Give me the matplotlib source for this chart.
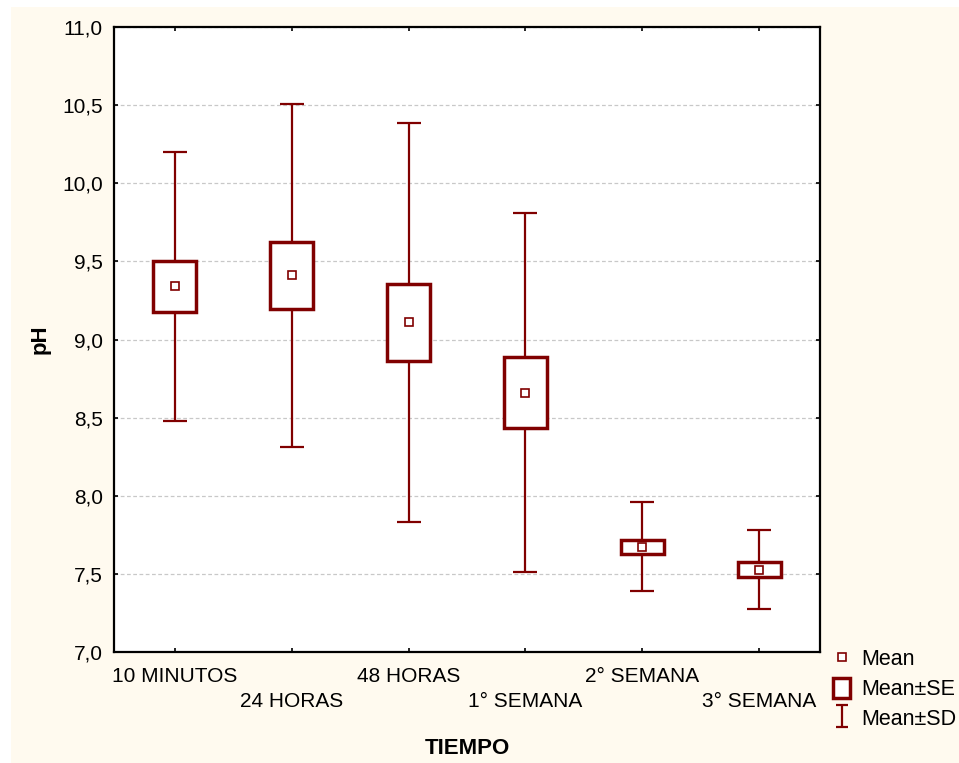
import matplotlib
matplotlib.use("Agg")
import matplotlib.pyplot as plt
import matplotlib.patches as mpatches
from matplotlib.lines import Line2D
from matplotlib.path import Path
from matplotlib.ticker import FuncFormatter

# values (pH per time point)
tiempo = ["10 MINUTOS", "24 HORAS", "48 HORAS", "1° SEMANA", "2° SEMANA", "3° SEMANA"]
mean_ph = [9.34, 9.41, 9.11, 8.66, 7.675, 7.528]
se_ph = [0.165, 0.215, 0.245, 0.225, 0.045, 0.045]
sd_ph = [0.86, 1.10, 1.275, 1.15, 0.285, 0.253]
y_ticks = [7.0, 7.5, 8.0, 8.5, 9.0, 9.5, 10.0, 10.5, 11.0]

red = "#800000"
cream = "#FFFAEF"
plt.rcParams["font.family"] = ["Liberation Sans", "DejaVu Sans"]

fig = plt.figure(figsize=(9.59, 7.63), dpi=100)
fig.patch.set_facecolor("white")
# cream panel (small white margin top / left)
fig.patches.append(mpatches.Rectangle((11 / 959, 0), 1, (763 - 7) / 763,
                                      transform=fig.transFigure, facecolor=cream,
                                      edgecolor="none", zorder=-10))

ax = fig.add_axes([114 / 959, 111 / 763, (820 - 114) / 959, (652 - 27) / 763])
ax.set_facecolor("white")

x = list(range(len(tiempo)))

# mean +- sd whiskers
ax.errorbar(x, mean_ph, yerr=sd_ph, fmt="none", ecolor=red, elinewidth=1.6,
            capsize=8.3, capthick=1.6, zorder=2)
# mean +- se boxes
lower = [m - s for m, s in zip(mean_ph, se_ph)]
ax.bar(x, [2 * s for s in se_ph], bottom=lower, width=0.37, color="white",
       edgecolor=red, linewidth=2.5, zorder=3)
# means
ax.plot(x, mean_ph, ls="none", marker="s", ms=6, mfc="white", mec=red, mew=1.2, zorder=4)

ax.set_xlim(-0.52, 5.52)
ax.set_ylim(7.0, 11.0)
ax.set_yticks(y_ticks)
ax.yaxis.set_major_formatter(FuncFormatter(lambda v, p: f"{v:.1f}".replace(".", ",")))
ax.set_xticks(x)
ax.set_xticklabels([t if i % 2 == 0 else "\n" + t for i, t in enumerate(tiempo)],
                   linespacing=1.35)
ax.grid(axis="y", color="#C8C8C8", linestyle=(0, (3, 2)), linewidth=0.9)
ax.set_axisbelow(True)

ax.tick_params(direction="in", length=3, width=1.2, top=True, right=True,
               labelsize=15, colors="black")
ax.tick_params(axis="x", pad=11)
ax.tick_params(axis="y", pad=8)
for sp in ax.spines.values():
    sp.set_linewidth(1.6)

ax.set_xlabel("TIEMPO", fontsize=16, fontweight="bold", labelpad=20)
ax.set_ylabel("pH", fontsize=16, fontweight="bold", labelpad=8)

# legend
sd_marker = Path([(-0.5, 1), (0.5, 1), (0, 1), (0, -1), (-0.5, -1), (0.5, -1)],
                 [Path.MOVETO, Path.LINETO, Path.MOVETO, Path.LINETO, Path.MOVETO, Path.LINETO])
handles = [
    Line2D([], [], ls="none", marker="s", ms=6, mfc="white", mec=red, mew=1.2),
    mpatches.Patch(facecolor="white", edgecolor=red, linewidth=2.5),
    Line2D([], [], ls="none", marker=sd_marker, ms=16, mfc="none", mec=red, mew=1.6),
]
fig.legend(handles, ["Mean", "Mean±SE", "Mean±SD"], loc="upper left",
           bbox_to_anchor=(833 / 959, 1 - 648 / 763), frameon=False, fontsize=15.5,
           handlelength=0.8, handleheight=1.05, handletextpad=0.5,
           labelspacing=0.34, borderpad=0, borderaxespad=0)

fig.savefig("out.png", dpi=100, facecolor=fig.get_facecolor())
